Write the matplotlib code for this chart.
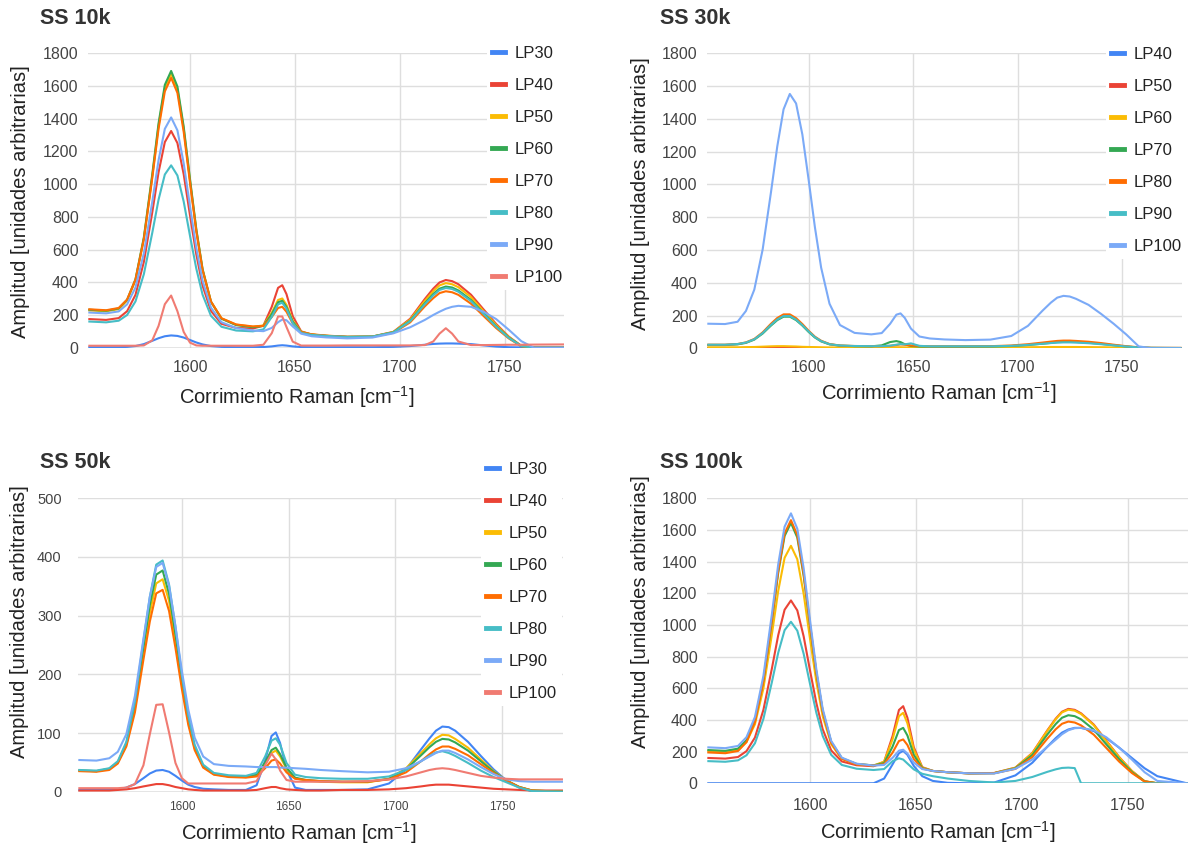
import numpy as np
import matplotlib
matplotlib.use('agg')
from matplotlib import pyplot as plt

plt.rcParams['font.family'] = ['Liberation Sans', 'DejaVu Sans']
plt.rcParams['mathtext.fontset'] = 'custom'
plt.rcParams['mathtext.rm'] = 'Liberation Sans'

# Raman shift sampling (cm^-1), shared by every spectrum
raman = [1552, 1560, 1566, 1570, 1574, 1578, 1582, 1585, 1588, 1591, 1594, 1597, 1600, 1603, 1606,
         1610, 1615, 1622, 1630, 1635, 1639, 1642, 1644, 1646, 1649, 1653, 1658, 1665, 1675, 1687,
         1697, 1705, 1712, 1716, 1719, 1722, 1725, 1728, 1734, 1740, 1746, 1752, 1758, 1764, 1778]

# SS 10k
ss10k_lp30 = [3, 3, 3, 5, 10, 22, 42, 58, 70, 75, 72, 62, 47, 32, 20, 10, 5, 3, 3, 4, 8, 13, 15, 13, 8,
              4, 3, 3, 3, 3, 5, 10, 18, 23, 25, 26, 26, 25, 22, 14, 7, 3, 2, 2, 2]
ss10k_lp40 = [175, 170, 181, 223, 323, 525, 827, 1072, 1257, 1325, 1251, 1060, 809, 571, 379, 225, 146,
              121, 117, 135, 250, 366, 382, 328, 193, 100, 80, 72, 66, 68, 97, 177, 298, 361, 399, 414,
              407, 388, 324, 234, 145, 68, 11, 0, 0]
ss10k_lp50 = [228, 222, 236, 288, 412, 667, 1048, 1356, 1590, 1675, 1581, 1338, 1022, 720, 478, 282, 180,
              141, 128, 136, 214, 292, 301, 262, 165, 98, 81, 73, 66, 68, 96, 171, 286, 345, 381, 395,
              388, 370, 309, 223, 138, 65, 11, 0, 0]
ss10k_lp60 = [232, 226, 240, 293, 418, 675, 1059, 1371, 1607, 1692, 1597, 1351, 1031, 725, 480, 281, 177,
              138, 125, 133, 205, 278, 287, 249, 159, 96, 80, 72, 66, 68, 94, 165, 272, 328, 361, 374,
              368, 350, 292, 211, 131, 62, 10, 0, 0]
ss10k_lp70 = [235, 229, 243, 294, 416, 664, 1037, 1338, 1567, 1650, 1558, 1319, 1009, 712, 474, 282, 180,
              142, 130, 133, 188, 243, 250, 220, 148, 96, 82, 74, 67, 67, 91, 155, 253, 303, 334, 345,
              339, 323, 269, 194, 120, 57, 9, 0, 0]
ss10k_lp80 = [160, 155, 165, 200, 283, 450, 702, 905, 1059, 1115, 1053, 893, 684, 484, 324, 195, 128,
              105, 100, 112, 189, 265, 275, 239, 150, 90, 78, 72, 66, 68, 93, 162, 266, 320, 353, 365,
              359, 342, 285, 206, 128, 60, 10, 0, 0]
ss10k_lp90 = [215, 210, 222, 265, 368, 578, 892, 1146, 1338, 1408, 1329, 1127, 864, 612, 410, 245, 156,
              120, 105, 101, 121, 156, 172, 168, 130, 86, 70, 63, 57, 62, 88, 125, 170, 200, 220, 238,
              250, 256, 250, 220, 175, 110, 40, 0, 0]
ss10k_lp100 = [12, 12, 12, 12, 12, 14, 45, 133, 266, 319, 223, 96, 31, 14, 12, 12, 12, 12, 12, 18, 89,
               191, 191, 127, 37, 13, 13, 13, 14, 14, 14, 14, 16, 38, 86, 119, 86, 38, 16, 16, 17, 18,
               18, 19, 20]

# SS 30k
ss30k_lp40 = [1, 1, 1, 1, 2, 2, 3, 3, 3, 3, 3, 2, 2, 1, 1, 1, 1, 1, 1, 1, 1, 2, 2, 1, 1, 1, 1, 1, 1, 1,
              1, 1, 2, 2, 2, 2, 2, 2, 2, 1, 1, 1, 1, 1, 1]
ss30k_lp50 = [2, 2, 2, 3, 4, 5, 6, 7, 7, 6, 5, 4, 3, 3, 2, 2, 2, 2, 2, 2, 2, 3, 3, 3, 2, 2, 2, 2, 2, 2,
              2, 3, 3, 4, 4, 4, 4, 4, 3, 3, 2, 2, 2, 2, 2]
ss30k_lp60 = [6, 6, 6, 7, 8, 10, 12, 13, 13, 12, 11, 9, 8, 7, 6, 5, 5, 5, 5, 5, 5, 6, 6, 5, 5, 5, 5, 5,
              5, 5, 5, 6, 7, 8, 8, 8, 8, 8, 7, 6, 5, 4, 3, 2, 2]
ss30k_lp70 = [20, 20, 24, 33, 53, 90, 139, 172, 193, 193, 172, 139, 100, 66, 42, 24, 16, 13, 12, 18, 38,
              44, 38, 25, 14, 11, 10, 10, 10, 11, 14, 20, 28, 33, 37, 39, 39, 38, 34, 27, 19, 11, 5, 2, 1]
ss30k_lp80 = [22, 22, 26, 36, 57, 97, 150, 185, 207, 207, 184, 148, 107, 71, 46, 26, 17, 14, 13, 13, 15,
              20, 24, 22, 17, 14, 12, 12, 12, 13, 17, 25, 35, 41, 45, 47, 47, 45, 40, 32, 22, 13, 6, 3, 2]
ss30k_lp90 = [22, 22, 26, 35, 55, 93, 143, 176, 197, 197, 175, 141, 103, 68, 44, 25, 17, 14, 13, 13, 16,
              22, 26, 24, 30, 15, 12, 12, 12, 12, 15, 21, 28, 32, 35, 36, 36, 35, 31, 25, 18, 11, 5, 3, 2]
ss30k_lp100 = [150, 148, 162, 228, 358, 603, 954, 1232, 1458, 1552, 1494, 1305, 1029, 740, 492, 272, 142,
               94, 85, 93, 149, 205, 213, 186, 120, 72, 60, 54, 50, 53, 75, 137, 230, 279, 309, 320, 316,
               302, 265, 210, 150, 85, 12, 0, 0]

# SS 50k
ss50k_lp30 = [3, 3, 3, 4, 7, 13, 23, 31, 36, 37, 34, 27, 19, 12, 8, 5, 4, 3, 3, 11, 53, 95, 101, 83, 38,
              7, 3, 3, 3, 4, 14, 38, 72, 91, 104, 111, 110, 104, 85, 61, 38, 19, 7, 1, 0]
ss50k_lp40 = [2, 2, 2, 3, 4, 6, 9, 11, 13, 13, 11, 8, 6, 4, 3, 2, 2, 2, 2, 3, 6, 8, 8, 6, 4, 3, 2, 2, 3,
              3, 4, 6, 9, 11, 12, 12, 12, 11, 9, 7, 5, 4, 3, 2, 2]
ss50k_lp50 = [36, 35, 39, 50, 80, 142, 236, 305, 355, 362, 325, 258, 184, 120, 74, 43, 30, 26, 25, 28, 47,
              66, 70, 60, 39, 23, 19, 17, 16, 16, 22, 40, 66, 81, 91, 97, 96, 90, 75, 55, 35, 19, 8, 2, 0]
ss50k_lp60 = [36, 35, 39, 50, 82, 147, 246, 318, 370, 377, 337, 268, 191, 124, 76, 43, 30, 26, 25, 29, 50,
              71, 75, 64, 41, 24, 20, 18, 17, 17, 22, 38, 62, 76, 85, 90, 89, 84, 70, 52, 34, 19, 8, 2, 0]
ss50k_lp70 = [35, 34, 37, 48, 77, 135, 225, 290, 338, 344, 308, 245, 175, 114, 71, 41, 29, 25, 24, 26, 40,
              53, 55, 48, 33, 22, 20, 18, 17, 17, 21, 33, 52, 64, 72, 77, 77, 73, 62, 47, 32, 19, 8, 2, 0]
ss50k_lp80 = [37, 36, 40, 52, 85, 153, 257, 332, 387, 394, 353, 281, 199, 130, 80, 46, 32, 28, 27, 32, 60,
              87, 91, 80, 49, 29, 25, 23, 22, 22, 26, 37, 52, 61, 67, 69, 66, 61, 49, 36, 25, 16, 7, 1, 0]
ss50k_lp90 = [54, 53, 57, 68, 98, 163, 260, 332, 383, 390, 351, 282, 206, 140, 92, 60, 47, 44, 43, 42, 42,
              42, 42, 41, 41, 40, 39, 37, 35, 33, 34, 40, 52, 60, 66, 70, 70, 66, 55, 42, 30, 21, 18, 17, 17]
ss50k_lp100 = [6, 6, 6, 6, 7, 13, 45, 98, 148, 149, 101, 49, 23, 14, 14, 14, 14, 14, 14, 18, 45, 65, 55,
               36, 20, 17, 17, 17, 17, 18, 21, 26, 33, 37, 39, 40, 39, 37, 32, 27, 24, 22, 21, 21, 21]

# SS 100k
ss100k_lp30 = [0, 0, 0, 0, 0, 0, 0, 0, 0, 0, 0, 0, 0, 0, 0, 0, 0, 0, 0, 30, 120, 190, 205, 180, 110, 45,
               15, 3, 0, 5, 50, 130, 230, 285, 320, 340, 350, 350, 330, 285, 225, 160, 95, 45, 0]
ss100k_lp40 = [160, 156, 166, 203, 289, 464, 725, 936, 1096, 1155, 1092, 928, 713, 507, 341, 208, 138,
               114, 108, 136, 299, 463, 487, 414, 228, 102, 78, 70, 63, 65, 99, 192, 333, 408, 452, 470,
               464, 442, 371, 268, 166, 78, 13, 0, 0]
ss100k_lp50 = [205, 200, 213, 261, 373, 600, 941, 1216, 1424, 1500, 1415, 1197, 913, 642, 424, 247, 154,
               121, 113, 136, 279, 424, 445, 379, 214, 100, 78, 70, 63, 65, 98, 190, 330, 404, 448, 465,
               459, 438, 367, 265, 164, 77, 13, 0, 0]
ss100k_lp60 = [210, 205, 219, 272, 397, 649, 1026, 1331, 1562, 1645, 1552, 1311, 997, 697, 456, 261, 159,
               122, 113, 128, 232, 336, 350, 302, 180, 96, 78, 70, 63, 64, 95, 179, 307, 374, 414, 430,
               424, 404, 339, 245, 152, 71, 12, 0, 0]
ss100k_lp70 = [195, 190, 204, 260, 388, 646, 1031, 1343, 1578, 1662, 1568, 1324, 1004, 700, 455, 258, 155,
               120, 112, 121, 194, 267, 277, 242, 154, 93, 78, 70, 63, 64, 91, 166, 281, 341, 376, 390,
               384, 366, 307, 222, 137, 65, 11, 0, 0]
ss100k_lp80 = [140, 136, 145, 177, 253, 407, 639, 825, 967, 1020, 964, 818, 628, 445, 299, 180, 116, 92,
               84, 90, 140, 158, 150, 125, 88, 60, 45, 30, 15, 5, 15, 40, 72, 88, 97, 99, 96, 0, 0, 0, 0,
               0, 0, 0, 0]
ss100k_lp90 = [227, 222, 236, 291, 419, 679, 1068, 1384, 1621, 1705, 1608, 1358, 1031, 720, 470, 268, 162,
               124, 112, 116, 161, 206, 212, 188, 131, 90, 78, 70, 63, 62, 92, 150, 230, 275, 310, 335,
               348, 350, 335, 290, 225, 150, 70, 15, 0]

palette = ['#4285F4', '#EA4335', '#FBBC04', '#34A853', '#FF6D01', '#46BDC6', '#7BAAF7', '#F07B72']

W, H = 1188, 847
fig = plt.figure(figsize=(W / 100, H / 100), dpi=100)


def px_axes(l, t, r, b):
    return fig.add_axes([l / W, 1 - b / H, (r - l) / W, (b - t) / H])


def px_text(x, y, s, **kw):
    fig.text(x / W, 1 - y / H, s, **kw)


def panel(rect, title, tpos, ylab, xlab, series, labels, ymax, ystep, leg=None,
          ytick=11.5, xtick=11.5, ypad=7, xpad=8.5):
    ax = px_axes(*rect)
    for ys, c in zip(series, palette):
        ax.plot(raman, ys, color=c, lw=1.5, solid_joinstyle='round')
    ax.set_xlim(1551.5, 1778.5)
    ax.set_ylim(0, ymax)
    ax.set_xticks([1600, 1650, 1700, 1750])
    ax.set_yticks(np.arange(0, ymax + 1, ystep))
    ax.grid(True, color='#dedede', lw=1.0)
    ax.set_axisbelow(True)
    ax.axhline(0, color='#9a9a9a', lw=1.0, zorder=1.5)
    for s in ax.spines.values():
        s.set_visible(False)
    ax.tick_params(length=0, colors='#444444')
    ax.tick_params(axis='y', labelsize=ytick, pad=ypad)
    ax.tick_params(axis='x', labelsize=xtick, pad=xpad)
    px_text(tpos[0], tpos[1], title, fontsize=15.5, fontweight='bold', color='#333333',
            ha='left', va='center')
    px_text(ylab[0], ylab[1], 'Amplitud [unidades arbitrarias]', fontsize=14.5, color='#222222',
            rotation=90, ha='center', va='center')
    px_text(xlab[0], xlab[1], 'Corrimiento Raman [cm$^{\\mathregular{-1}}$]', fontsize=14.5,
            color='#222222', ha='center', va='center')
    if leg is not None:
        lg = ax.legend(labels, loc='upper left', bbox_to_anchor=(leg[0] / W, 1 - leg[1] / H),
                       bbox_transform=fig.transFigure, fontsize=12, frameon=True, fancybox=False,
                       facecolor='white', edgecolor='none', framealpha=1, borderpad=0.3,
                       handlelength=0.8, handletextpad=0.55, labelspacing=1.02, borderaxespad=0)
        for t in lg.get_texts():
            t.set_color('#222222')
        for h in lg.get_lines():
            h.set_linewidth(3.5)
    return ax


panel((88.3, 53.3, 564.3, 347.7), 'SS 10k', (40, 18), (20.5, 202), (297, 397),
      [ss10k_lp30, ss10k_lp40, ss10k_lp50, ss10k_lp60, ss10k_lp70, ss10k_lp80, ss10k_lp90, ss10k_lp100],
      ['LP30', 'LP40', 'LP50', 'LP60', 'LP70', 'LP80', 'LP90', 'LP100'], 1800, 200, leg=(486.7, 41))

panel((707.3, 53.3, 1181.5, 348.3), 'SS 30k', (660, 18), (640.5, 194), (939, 393),
      [ss30k_lp40, ss30k_lp50, ss30k_lp60, ss30k_lp70, ss30k_lp80, ss30k_lp90, ss30k_lp100],
      ['LP40', 'LP50', 'LP60', 'LP70', 'LP80', 'LP90', 'LP100'], 1800, 200, leg=(1106, 42))

panel((78.3, 498.3, 563, 791.7), 'SS 50k', (40, 462), (20, 622), (299, 833),
      [ss50k_lp30, ss50k_lp40, ss50k_lp50, ss50k_lp60, ss50k_lp70, ss50k_lp80, ss50k_lp90, ss50k_lp100],
      ['LP30', 'LP40', 'LP50', 'LP60', 'LP70', 'LP80', 'LP90', 'LP100'], 500, 100, leg=(481, 457),
      ytick=10.5, xtick=8.5, ypad=12, xpad=6.5)

panel((707.3, 498.3, 1188, 783.3), 'SS 100k', (660, 462), (640, 612), (938, 832),
      [ss100k_lp30, ss100k_lp40, ss100k_lp50, ss100k_lp60, ss100k_lp70, ss100k_lp80, ss100k_lp90],
      None, 1800, 200, xpad=10.5)

plt.savefig('out.png', dpi=100)
